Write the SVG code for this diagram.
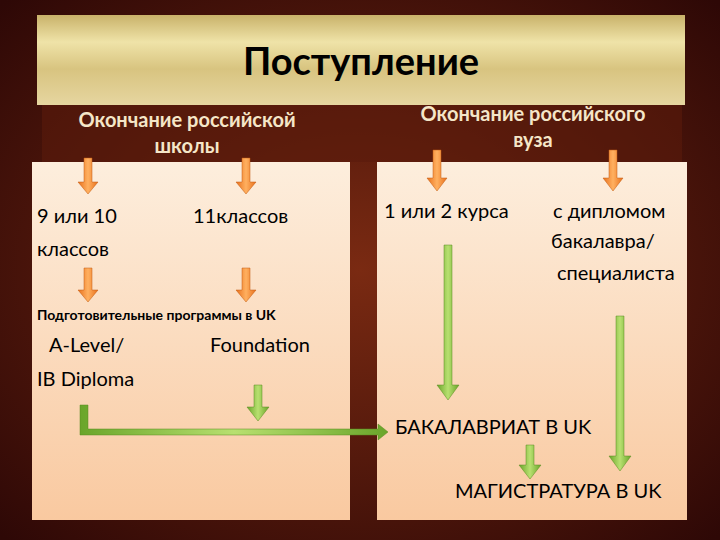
<svg xmlns="http://www.w3.org/2000/svg" width="720" height="540" viewBox="0 0 720 540">
<defs>
<linearGradient id="gold" x1="0" y1="0" x2="0" y2="1">
<stop offset="0" stop-color="#c9b26a"/><stop offset="0.3" stop-color="#efe3a8"/><stop offset="0.6" stop-color="#d8c480"/><stop offset="1" stop-color="#e6d6a0"/>
</linearGradient>
<linearGradient id="panel" x1="0" y1="0" x2="0" y2="1">
<stop offset="0" stop-color="#fdeedd"/><stop offset="1" stop-color="#f9c9a0"/>
</linearGradient>
<radialGradient id="bg" cx="0.5" cy="0.5" r="0.7">
<stop offset="0" stop-color="#7a2a12"/><stop offset="1" stop-color="#2e0806"/>
</radialGradient>
<linearGradient id="og" x1="0" y1="0" x2="1" y2="0"><stop offset="0" stop-color="#e8701c"/><stop offset="0.5" stop-color="#ffb060"/><stop offset="1" stop-color="#e8701c"/></linearGradient>
<linearGradient id="gg" x1="0" y1="0" x2="1" y2="0"><stop offset="0" stop-color="#6aa52a"/><stop offset="0.5" stop-color="#b8e070"/><stop offset="1" stop-color="#6aa52a"/></linearGradient>
</defs>
<style>
text{font-family:Lato,"Open Sans",sans-serif;fill:#000}
.h{fill:#f5e6c8;font-size:20px;font-weight:bold}
.t{font-size:20px}
</style>
<rect width="720" height="540" fill="url(#bg)"/>
<g id="header"><rect x="37" y="15" width="648" height="90" fill="url(#gold)"/>
<text x="361" y="75" text-anchor="middle" font-size="38" font-weight="bold">Поступление</text></g>
<rect x="42" y="105" width="640" height="57" fill="#5a1a0c" opacity="0.6"/>
<g id="h-left"><text class="h" x="187" y="127" text-anchor="middle">Окончание российской</text><text class="h" x="187" y="153" text-anchor="middle">школы</text></g>
<g id="h-right"><text class="h" x="533" y="121" text-anchor="middle">Окончание российского</text><text class="h" x="533" y="147" text-anchor="middle">вуза</text></g>
<g id="panel-left"><rect x="32" y="162" width="318" height="358" fill="url(#panel)"/></g>
<g id="panel-right"><rect x="377" y="162" width="310" height="358" fill="url(#panel)"/></g>
<g id="connectors">
<g fill="url(#og)" stroke="#c05a10" stroke-width="0.5">
<path d="M84,158h8v24h6l-10,12l-10,-12h6z"/>
<path d="M242,158h8v24h6l-10,12l-10,-12h6z"/>
<path d="M84,268h8v22h6l-10,12l-10,-12h6z"/>
<path d="M242,268h8v22h6l-10,12l-10,-12h6z"/>
<path d="M433,150h8v28h6l-10,13l-10,-13h6z"/>
<path d="M609,150h8v28h6l-10,13l-10,-13h6z"/>
</g>
<g fill="url(#gg)" stroke="#5a8a20" stroke-width="0.5">
<path d="M444,245h8v140h7l-11,15l-11,-15h7z"/>
<path d="M616,316h8v140h7l-11,15l-11,-15h7z"/>
<path d="M254,385h8v22h7l-11,14l-11,-14h7z"/>
<path d="M526,445h8v20h7l-11,14l-11,-14h7z"/>
<path d="M80,405h8v24h290v-5l10,8l-10,8v-5h-298z"/>
</g>
</g>
<g id="texts">
<text class="t" x="37" y="223">9 или 10</text><text class="t" x="37" y="256">классов</text>
<text class="t" x="193" y="223">11классов</text>
<text class="t" x="384" y="218">1 или 2 курса</text>
<text class="t" x="553" y="218">с дипломом</text><text class="t" x="551" y="248">бакалавра/</text><text class="t" x="557" y="280">специалиста</text>
<text x="37" y="320" font-size="14" font-weight="bold">Подготовительные программы в UK</text>
<text class="t" x="49" y="352">A-Level/</text><text class="t" x="210" y="352">Foundation</text>
<text class="t" x="37" y="386">IB Diploma</text>
<text class="t" x="395" y="434">БАКАЛАВРИАТ В UK</text>
<text class="t" x="455" y="498">МАГИСТРАТУРА  В UK</text>
</g>
</svg>
